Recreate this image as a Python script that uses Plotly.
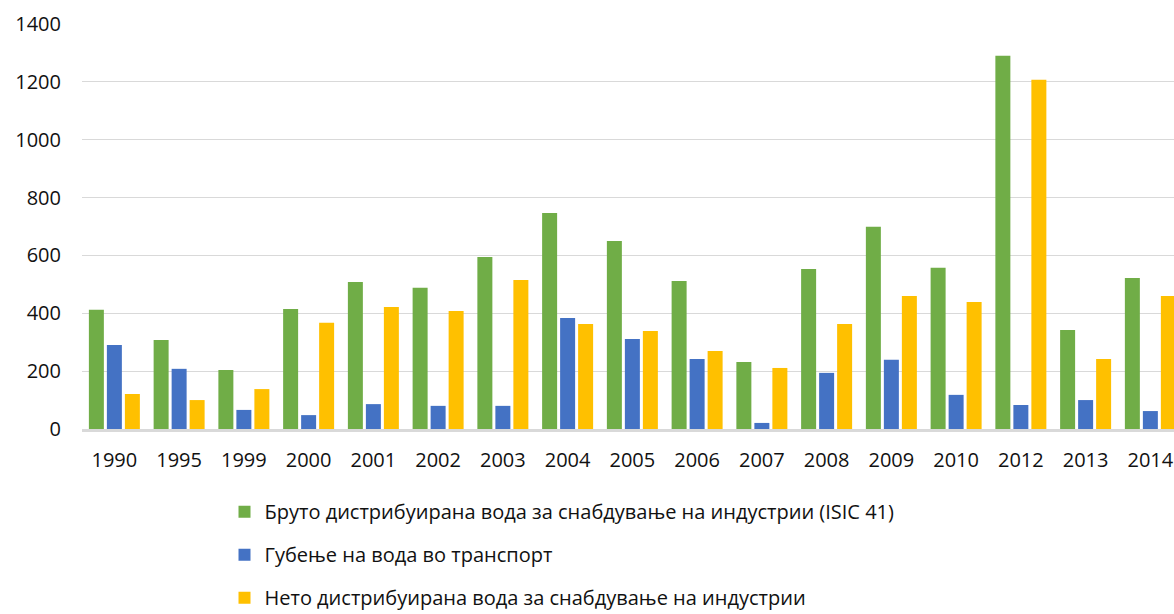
import plotly.graph_objects as go

years = ["1990", "1995", "1999", "2000", "2001", "2002", "2003", "2004", "2005",
         "2006", "2007", "2008", "2009", "2010", "2012", "2013", "2014"]

gross = [412, 308, 204, 415, 508, 488, 595, 747, 650, 512, 232, 553, 699, 557, 1290, 342, 522]
losses = [290, 208, 66, 48, 86, 80, 80, 384, 311, 242, 21, 194, 239, 118, 83, 100, 62]
net = [121, 100, 138, 367, 422, 408, 515, 363, 339, 270, 211, 363, 460, 439, 1207, 242, 460]

names = [
    "Бруто дистрибуирана вода за снабдување на индустрии (ISIC 41)",
    "Губење на вода во транспорт",
    "Нето дистрибуирана вода за снабдување на индустрии",
]
colors = ["#70AD47", "#4472C4", "#FFC000"]

FONT = "Open Sans"

fig = go.Figure()
for i, (vals, name, col) in enumerate(zip([gross, losses, net], names, colors)):
    fig.add_trace(go.Bar(
        x=years, y=vals, name=name, legendgroup=f"g{i}",
        marker=dict(color=col, line=dict(width=0)),
    ))

fig.update_layout(
    width=1174, height=614,
    margin=dict(l=82, r=0, t=24, b=185, autoexpand=False),
    paper_bgcolor="white", plot_bgcolor="white",
    barmode="group", bargap=0.166, bargroupgap=0.167,
    font=dict(family=FONT, size=20, color="#111111"),
    showlegend=True,
    legend=dict(
        orientation="v", x=0.1305, xanchor="left", y=-0.156, yanchor="top",
        font=dict(family=FONT, size=20, color="#111111"),
        tracegroupgap=14, itemwidth=30, bgcolor="rgba(0,0,0,0)",
    ),
    xaxis=dict(
        type="category", range=[-0.5, 16.365],
        showline=True, linecolor="#D9D9D9", linewidth=2.5,
        showgrid=False, zeroline=False, ticks="",
        ticklabelstandoff=11,
        tickfont=dict(family=FONT, size=20, color="#111111"),
    ),
    yaxis=dict(
        range=[0, 1400], tickvals=[0, 200, 400, 600, 800, 1000, 1200, 1400],
        showgrid=True, gridcolor="#D9D9D9", gridwidth=1.3,
        zeroline=False, showline=False, ticks="",
        ticklabelstandoff=20,
        tickfont=dict(family=FONT, size=20, color="#111111"),
    ),
)

fig.write_html(
    "out.html",
    config={"displayModeBar": False},
    post_script="document.body.style.margin='0';document.body.style.overflow='hidden';",
)
